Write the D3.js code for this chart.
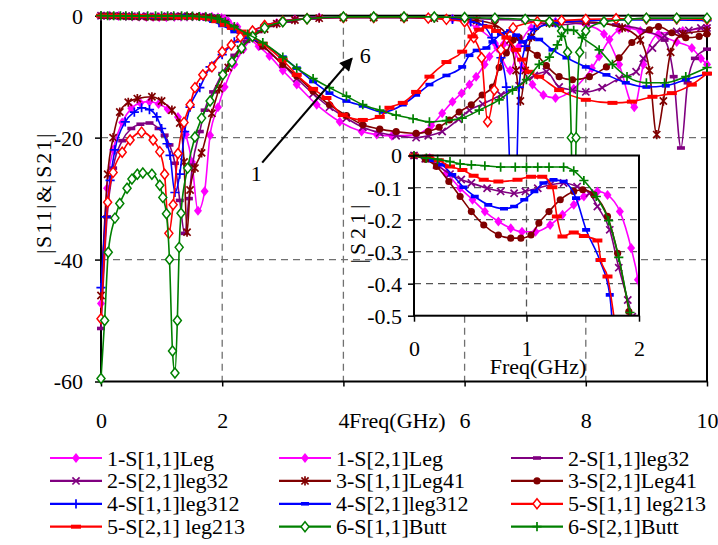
<!DOCTYPE html>
<html>
<head>
<meta charset="utf-8">
<script src="https://cdn.jsdelivr.net/npm/d3@7"></script>
</head>
<body style="margin:0">
<div id="chart"></div>
<script>
// ---- data ----
// names in legend order (row by row)
var seriesNames = ["1-S[1,1]Leg", "1-S[2,1]Leg", "2-S[1,1]leg32", "2-S[2,1]leg32",
  "3-S[1,1]Leg41", "3-S[2,1]Leg41", "4-S[1,1]leg312", "4-S[2,1]leg312",
  "5-S[1,1] leg213", "5-S[2,1] leg213", "6-S[1,1]Butt", "6-S[2,1]Butt"];

var xTicks = [0, 2, 4, 6, 8, 10];
var yTicks = [0, -20, -40, -60];
var insetXTicks = [0, 1, 2];
var insetYTicks = [0, -0.1, -0.2, -0.3, -0.4, -0.5];

// |S11| in dB, [freq GHz, dB]
var s11Leg = [[0,-47.2],[0.1,-28.3],[0.2,-22],[0.35,-17.5],[0.5,-15.2],[0.65,-14.3],[0.8,-14.1],[0.95,-14.5],[1.1,-15.3],[1.27,-16.6],[1.4,-19.5],[1.5,-24],[1.6,-32],[1.71,-28.8],[1.8,-19.6],[1.93,-15],[2.04,-11.7],[2.2,-8],[2.35,-5.5],[2.5,-3.5],[2.7,-2],[2.9,-1.2],[3.2,-0.6],[3.6,-0.3],[4,-0.2],[4.5,-0.2],[5,-0.2],[5.4,-0.3],[5.8,-0.5],[6.2,-2],[6.5,-4.5],[6.75,-9],[6.9,-5],[7.1,-2],[7.5,-1],[8,-1.5],[8.3,-3],[8.55,-8],[8.8,-15],[8.95,-8],[9.2,-3],[9.6,-2.5],[10,-2]];
var s11Leg32 = [[0,-51.3],[0.1,-33],[0.2,-25],[0.35,-20.5],[0.5,-18.5],[0.65,-17.8],[0.8,-17.6],[0.95,-18.5],[1.05,-19.6],[1.13,-21.2],[1.22,-24.2],[1.3,-30.3],[1.38,-35.7],[1.45,-30],[1.51,-24.5],[1.63,-19],[1.71,-15.5],[1.85,-12.5],[2,-9.5],[2.2,-6.5],[2.4,-4.2],[2.6,-2.6],[2.8,-1.6],[3.1,-0.9],[3.5,-0.4],[4,-0.3],[4.5,-0.3],[5,-0.3],[5.5,-0.3],[6,-0.4],[6.5,-0.6],[7,-0.8],[7.5,-1.5],[8,-1.2],[8.5,-1.5],[9,-2.5],[9.3,-4],[9.45,-10],[9.57,-21.7],[9.68,-11],[9.8,-7],[10,-5.5]];
var s11Leg41 = [[0,-45.9],[0.11,-26],[0.2,-20],[0.31,-15.8],[0.45,-14.2],[0.6,-13.6],[0.84,-13.3],[1,-14],[1.17,-15.5],[1.3,-17.6],[1.37,-24],[1.42,-35.5],[1.47,-28.6],[1.55,-25],[1.66,-22.5],[1.83,-16],[1.95,-12],[2.1,-8.5],[2.3,-5.5],[2.5,-3.5],[2.7,-2.2],[2.9,-1.3],[3.2,-0.7],[3.6,-0.4],[4,-0.3],[4.5,-0.3],[5,-0.3],[5.5,-0.4],[6.2,-0.8],[6.5,-1.5],[6.75,-4],[6.85,-9],[6.92,-14],[7,-9],[7.1,-3.5],[7.4,-1.2],[8,-1],[8.6,-2],[8.9,-4],[9.05,-9],[9.17,-19.5],[9.28,-14],[9.4,-6],[9.6,-3],[10,-2.5]];
var s11Leg312 = [[0,-44.6],[0.08,-33],[0.15,-27],[0.23,-22],[0.4,-17.4],[0.55,-15.8],[0.67,-15.1],[0.8,-15.4],[0.92,-16.6],[1,-18.5],[1.09,-21],[1.14,-22.9],[1.22,-29],[1.3,-26],[1.38,-19],[1.47,-15],[1.63,-11.8],[1.8,-8.4],[2,-6.4],[2.2,-4.3],[2.32,-3.5],[2.5,-2.5],[2.7,-1.6],[3,-0.9],[3.4,-0.5],[4,-0.3],[4.5,-0.3],[5,-0.3],[5.4,-0.4],[5.8,-0.6],[6.1,-1],[6.3,-1.5],[6.45,-3.6],[6.6,-6.9],[6.69,-11.7],[6.76,-30],[6.8,-45],[6.85,-30],[6.9,-11.7],[7,-5],[7.15,-2.2],[7.5,-1.2],[8,-0.8],[8.5,-0.7],[9,-0.7],[9.5,-0.7],[10,-0.8]];
var s11Leg213 = [[0,-49.7],[0.11,-30.6],[0.2,-25.7],[0.35,-22.4],[0.48,-20.4],[0.67,-19.1],[0.86,-20.4],[0.97,-22.3],[1.05,-26],[1.12,-35.7],[1.19,-31],[1.27,-22.6],[1.37,-17.5],[1.47,-14.6],[1.55,-11.8],[1.68,-9.7],[1.83,-8.4],[2,-5.9],[2.15,-4.8],[2.3,-3.5],[2.5,-2.5],[2.7,-1.6],[3,-0.9],[3.4,-0.5],[4,-0.3],[4.5,-0.3],[5,-0.3],[5.4,-0.4],[5.7,-0.6],[6,-1],[6.15,-3.6],[6.28,-6.9],[6.38,-17.4],[6.49,-12.2],[6.6,-5.6],[6.8,-2],[7.2,-1],[7.6,-0.8],[8,-0.6],[8.5,-0.5],[9,-0.5],[9.5,-0.5],[10,-0.6]];
var s11Butt = [[0,-59.5],[0.06,-50],[0.12,-38.8],[0.23,-33.2],[0.31,-30.8],[0.43,-28.3],[0.51,-26.8],[0.6,-26],[0.69,-25.8],[0.84,-26],[0.97,-27.8],[1.02,-29.8],[1.08,-32.5],[1.13,-40],[1.18,-55],[1.22,-58.6],[1.26,-50],[1.29,-38],[1.32,-32.4],[1.43,-25],[1.55,-19.9],[1.66,-16.8],[1.8,-14],[2.01,-9.7],[2.16,-7.6],[2.32,-5.3],[2.5,-3.4],[2.7,-2],[3,-1],[3.4,-0.5],[4,-0.2],[4.5,-0.2],[5,-0.2],[5.5,-0.2],[6,-0.3],[6.5,-0.4],[7,-0.6],[7.4,-1],[7.6,-2.5],[7.7,-6],[7.76,-20],[7.8,-45],[7.84,-20],[7.9,-6],[8,-2.5],[8.3,-1],[8.7,-0.6],[9,-0.4],[9.5,-0.4],[10,-0.4]];

// |S21| below 2 GHz (the inset), [freq GHz, dB]
var s21LowLeg = [[0,0],[0.14,-0.008],[0.29,-0.055],[0.41,-0.102],[0.52,-0.138],[0.63,-0.175],[0.75,-0.206],[0.86,-0.227],[0.96,-0.238],[1.08,-0.238],[1.21,-0.217],[1.32,-0.185],[1.42,-0.154],[1.51,-0.128],[1.63,-0.112],[1.72,-0.123],[1.83,-0.175],[1.93,-0.289],[1.99,-0.388],[2.04,-0.55]];
var s21LowLeg32 = [[0,0],[0.1,-0.01],[0.2,-0.03],[0.32,-0.058],[0.42,-0.075],[0.51,-0.086],[0.65,-0.102],[0.77,-0.112],[0.89,-0.118],[0.99,-0.112],[1.1,-0.102],[1.21,-0.092],[1.33,-0.086],[1.45,-0.097],[1.56,-0.118],[1.63,-0.159],[1.74,-0.232],[1.82,-0.35],[1.9,-0.451],[1.94,-0.503]];
var s21LowLeg41 = [[0,0],[0.1,-0.012],[0.2,-0.034],[0.31,-0.081],[0.41,-0.128],[0.51,-0.175],[0.62,-0.217],[0.75,-0.248],[0.86,-0.258],[0.95,-0.258],[1.04,-0.248],[1.11,-0.211],[1.2,-0.175],[1.3,-0.138],[1.42,-0.112],[1.5,-0.107],[1.6,-0.123],[1.72,-0.19],[1.81,-0.305],[1.91,-0.487],[1.93,-0.53]];
var s21LowLeg312 = [[0,0],[0.1,-0.005],[0.17,-0.015],[0.25,-0.029],[0.34,-0.06],[0.44,-0.099],[0.54,-0.128],[0.66,-0.154],[0.8,-0.166],[0.89,-0.159],[0.98,-0.138],[1.07,-0.112],[1.15,-0.086],[1.24,-0.076],[1.33,-0.081],[1.44,-0.133],[1.53,-0.232],[1.65,-0.326],[1.74,-0.435],[1.76,-0.51]];
var s21LowLeg213 = [[0,0],[0.13,-0.003],[0.22,-0.015],[0.32,-0.034],[0.43,-0.045],[0.53,-0.063],[0.62,-0.076],[0.75,-0.081],[0.92,-0.076],[1.04,-0.066],[1.14,-0.066],[1.23,-0.099],[1.27,-0.19],[1.32,-0.253],[1.42,-0.24],[1.51,-0.251],[1.63,-0.265],[1.66,-0.326],[1.72,-0.378],[1.78,-0.51]];
var s21LowButt = [[0,0],[0.11,-0.008],[0.21,-0.012],[0.32,-0.019],[0.41,-0.026],[0.51,-0.029],[0.63,-0.032],[0.77,-0.036],[0.9,-0.036],[1,-0.036],[1.1,-0.036],[1.2,-0.036],[1.33,-0.036],[1.42,-0.048],[1.51,-0.078],[1.62,-0.128],[1.73,-0.203],[1.82,-0.318],[1.92,-0.49],[1.95,-0.53]];

// |S21| above 2 GHz, [freq GHz, dB]
var s21HighLeg = [[2.1,-0.9],[2.25,-1.8],[2.42,-3.5],[2.6,-5],[2.78,-6.6],[3,-9],[3.23,-11.3],[3.56,-14.6],[3.94,-17.4],[4.3,-19],[4.55,-19.5],[4.8,-19.7],[5.2,-19.5],[5.45,-18],[5.63,-16],[5.8,-14.1],[5.95,-12.7],[6.08,-11.3],[6.19,-10],[6.33,-8],[6.41,-6.7],[6.54,-5.3],[6.65,-4.6],[6.8,-5.5],[6.95,-8.5],[7.12,-11.3],[7.3,-13],[7.5,-13.5],[7.8,-12],[8.1,-8.6],[8.22,-6.7],[8.39,-3.9],[8.55,-2.3],[8.7,-2],[8.9,-2.5],[9.2,-3.2],[9.5,-4.3],[9.75,-5.3],[9.9,-7],[10,-8]];
var s21HighLeg32 = [[2.05,-1.2],[2.2,-2],[2.42,-3.3],[2.67,-5],[3,-8],[3.23,-10.3],[3.5,-12.8],[3.77,-15],[4.05,-16.8],[4.32,-18.3],[4.6,-19.2],[4.87,-19.7],[5.2,-20],[5.4,-19.7],[5.63,-19],[5.9,-17],[6.08,-15.5],[6.3,-14.5],[6.6,-13],[6.9,-11.5],[7.15,-9.8],[7.35,-9.2],[7.56,-11.7],[7.78,-12.2],[8,-12.5],[8.27,-11.8],[8.55,-10.3],[8.83,-9.2],[8.95,-7],[9.1,-5.3],[9.3,-3.3],[9.5,-2.6],[9.7,-2.4],[9.9,-2],[10,-2]];
var s21HighLeg41 = [[2.05,-1.2],[2.2,-2],[2.42,-3.3],[2.67,-5],[3,-8],[3.23,-9.9],[3.5,-12.4],[3.77,-14.6],[4.05,-16.4],[4.32,-17.9],[4.6,-18.6],[4.87,-19],[5.2,-19.3],[5.4,-19],[5.58,-18.3],[5.75,-17.1],[5.91,-15.8],[6.11,-14.6],[6.29,-13],[6.46,-11.7],[6.57,-8.5],[6.69,-6.1],[6.8,-4],[6.9,-3.6],[7.03,-5.3],[7.2,-6.5],[7.35,-8.2],[7.56,-10],[7.78,-10.5],[8.06,-10],[8.34,-8.4],[8.55,-6.9],[8.76,-4.4],[9.05,-2.3],[9.2,-1.8],[9.42,-2.8],[9.65,-3.6],[9.87,-3.4],[10,-3]];
var s21HighLeg312 = [[1.85,-0.9],[2,-1.6],[2.2,-2.6],[2.42,-3.5],[2.67,-4.6],[3,-6.8],[3.23,-8.6],[3.5,-10.8],[3.77,-12.7],[4.05,-14],[4.32,-14.8],[4.65,-15.8],[4.98,-14.6],[5.2,-13],[5.42,-11.3],[5.7,-9.8],[5.96,-8.4],[6.08,-6.5],[6.2,-5.7],[6.36,-5.3],[6.46,-4.3],[6.6,-3],[6.75,-2.5],[6.85,-3.2],[6.95,-4.3],[7.1,-3.6],[7.23,-3.9],[7.45,-5.6],[7.68,-6.9],[8,-8.4],[8.34,-9.7],[8.66,-11],[9,-11.7],[9.32,-11.5],[9.65,-10.5],[10,-9.5]];
var s21HighLeg213 = [[1.9,-0.9],[2.04,-1.5],[2.16,-2],[2.32,-2.6],[2.42,-3.1],[2.67,-4.6],[3,-7.3],[3.23,-9.7],[3.5,-12],[3.72,-13.5],[3.99,-16.3],[4.32,-17.1],[4.6,-16.6],[4.76,-15.1],[4.98,-14.3],[5.2,-12.5],[5.42,-10],[5.7,-7.6],[5.96,-5.9],[6.13,-3.4],[6.24,-2.3],[6.38,-1.8],[6.52,-2.5],[6.69,-3.6],[6.85,-5.6],[6.95,-7.2],[7.07,-9.2],[7.23,-10],[7.56,-12.2],[8,-13.8],[8.44,-14.3],[8.76,-14.1],[9.1,-13.3],[9.42,-12.7],[9.75,-11.3],[10,-9.5]];
var s21HighButt = [[2.05,-1],[2.2,-1.8],[2.42,-3],[2.67,-4.4],[3,-6.8],[3.23,-8.6],[3.5,-10.3],[3.77,-11.8],[4.05,-13.2],[4.32,-14.6],[4.6,-15.5],[4.87,-16.3],[5.15,-16.9],[5.42,-17.4],[5.7,-17.2],[5.96,-16.8],[6.24,-15.5],[6.57,-13.8],[6.79,-12.2],[7.02,-10.5],[7.23,-8],[7.4,-6.8],[7.53,-4.8],[7.6,-3.4],[7.7,-2.3],[7.8,-2.4],[7.94,-3.6],[8.22,-5.6],[8.44,-8],[8.68,-10],[9,-11],[9.3,-11],[9.65,-10],[10,-8.5]];

// arrow annotation "1" -> "6", [freq, dB]
var arrowFrom = [2.66, -24.1];
var arrowTo = [4.14, -7.0];
var arrowLabels = [["1", 2.56, -27.1], ["6", 4.36, -7.8]];

// ---- styles ----
var colors = ["#ff00ff", "#ff00ff", "#800080", "#800080", "#800000", "#800000",
  "#0000ff", "#0000ff", "#ff0000", "#ff0000", "#008000", "#008000"];
var markers = ["diamond", "diamond", "bar", "x", "star", "circle",
  "plus", "bar", "diamondOpen", "barWide", "diamondOpen", "plus"];

var mainData = [s11Leg, s21LowLeg.concat(s21HighLeg), s11Leg32, s21LowLeg32.concat(s21HighLeg32),
  s11Leg41, s21LowLeg41.concat(s21HighLeg41), s11Leg312, s21LowLeg312.concat(s21HighLeg312),
  s11Leg213, s21LowLeg213.concat(s21HighLeg213), s11Butt, s21LowButt.concat(s21HighButt)];
// the inset only shows the S21 curves (index into legend order)
var insetData = [[1, s21LowLeg], [3, s21LowLeg32], [5, s21LowLeg41],
  [7, s21LowLeg312], [9, s21LowLeg213], [11, s21LowButt]];

var FONT = 22;
var FAMILY = "Liberation Serif";

function markerPath(type) {
  switch (type) {
    case "diamond":
    case "diamondOpen": return "M0,-5L4,0L0,5L-4,0Z";
    case "bar": return "M-4,-1.8H4V1.8H-4Z";
    case "barWide": return "M-5,-2H5V2H-5Z";
    case "x": return "M-3.6,-3.6L3.6,3.6M-3.6,3.6L3.6,-3.6";
    case "star": return "M-3.6,-3.6L3.6,3.6M-3.6,3.6L3.6,-3.6M0,-4.6V4.6";
    case "plus": return "M-4.6,0H4.6M0,-4.6V4.6";
    case "circle": return d3.symbol(d3.symbolCircle, 40)();
  }
}
function styleMarker(sel, type, color) {
  if (type == "x" || type == "star" || type == "plus") {
    sel.attr("fill", "none").attr("stroke", color).attr("stroke-width", 1.7);
  } else if (type == "diamondOpen") {
    sel.attr("fill", "#fff").attr("stroke", color).attr("stroke-width", 1.5);
  } else {
    sel.attr("fill", color).attr("stroke", "none");
  }
}

// draw one curve with its markers
function drawSeries(g, data, xs, ys, color, type) {
  var line = d3.line()
    .x(function(d) { return xs(d[0]); })
    .y(function(d) { return ys(d[1]); })
    .curve(d3.curveMonotoneX);
  g.append("path")
    .datum(data)
    .attr("d", line)
    .attr("fill", "none")
    .attr("stroke", color)
    .attr("stroke-width", 1.6);
  g.selectAll(null)
    .data(data)
    .enter()
    .append("path")
    .attr("d", markerPath(type))
    .attr("transform", function(d) { return "translate(" + xs(d[0]) + "," + ys(d[1]) + ")"; })
    .call(styleMarker, type, color);
}

// plain text helper, always in the serif face
function addText(parent, str, size) {
  return parent.append("text")
    .attr("font-family", FAMILY)
    .style("font-family", FAMILY)
    .attr("font-size", size)
    .attr("fill", "#000")
    .text(str);
}
function styleAxis(a) {
  a.attr("font-family", FAMILY).attr("font-size", FONT);
  a.select(".domain").remove();
  a.selectAll(".tick line").attr("stroke", "#000").attr("stroke-width", 1.5);
  a.selectAll(".tick text")
    .attr("fill", "#000")
    .attr("font-family", FAMILY)
    .style("font-family", FAMILY)
    .attr("font-size", FONT);
}

var svg = d3.select("#chart").append("svg")
  .attr("width", 718)
  .attr("height", 545);

// ---- main plot ----
var x = d3.scaleLinear().domain([0, 10]).range([101, 707]);
var y = d3.scaleLinear().domain([-60, 0]).range([381.5, 15.7]);

var grid = svg.append("g").attr("stroke", "#707070").attr("stroke-width", 1.3).attr("stroke-dasharray", "7,5");
grid.selectAll("line.vx")
  .data([2, 4, 6, 8])
  .enter().append("line")
  .attr("x1", function(d) { return x(d); }).attr("x2", function(d) { return x(d); })
  .attr("y1", y(0)).attr("y2", y(-60));
grid.selectAll("line.hy")
  .data([-20, -40])
  .enter().append("line")
  .attr("x1", x(0)).attr("x2", x(10))
  .attr("y1", function(d) { return y(d); }).attr("y2", function(d) { return y(d); });

svg.append("rect")
  .attr("x", x(0)).attr("y", y(0))
  .attr("width", x(10) - x(0)).attr("height", y(-60) - y(0))
  .attr("fill", "none").attr("stroke", "#000").attr("stroke-width", 2);

var xAxis = svg.append("g")
  .attr("transform", "translate(0," + y(-60) + ")")
  .call(d3.axisBottom(x).tickValues(xTicks).tickSize(5).tickPadding(26).tickFormat(String));
var yAxis = svg.append("g")
  .attr("transform", "translate(" + x(0) + ",0)")
  .call(d3.axisLeft(y).tickValues(yTicks).tickSize(6).tickPadding(12).tickFormat(String));
styleAxis(xAxis);
styleAxis(yAxis);
yAxis.selectAll(".tick text").attr("dy", "0.34em");

addText(svg, "|S11|&|S21|", FONT)
  .attr("transform", "translate(43,193) rotate(-90)")
  .attr("text-anchor", "middle")
  .attr("dy", "0.35em")
  .attr("letter-spacing", 1.8);
addText(svg, "Freq(GHz)", FONT)
  .attr("x", 349).attr("y", 428);

var curves = svg.append("g");
mainData.forEach(function(d, i) {
  drawSeries(curves.append("g"), d, x, y, colors[i], markers[i]);
});

// ---- inset ----
var ix = d3.scaleLinear().domain([0, 2]).range([414, 639]);
var iy = d3.scaleLinear().domain([-0.5, 0]).range([315.7, 155.5]);

svg.append("defs").append("clipPath").attr("id", "insetClip")
  .append("rect").attr("x", 405).attr("y", 148).attr("width", 639 - 405).attr("height", 315.7 - 148);

svg.append("rect")
  .attr("x", ix(0)).attr("y", iy(0))
  .attr("width", ix(2) - ix(0)).attr("height", iy(-0.5) - iy(0))
  .attr("fill", "#fff");

var igrid = svg.append("g").attr("stroke", "#555").attr("stroke-width", 1.3).attr("stroke-dasharray", "7,5");
igrid.selectAll("line.h")
  .data([-0.1, -0.2, -0.3, -0.4])
  .enter().append("line")
  .attr("x1", ix(0)).attr("x2", ix(2))
  .attr("y1", function(d) { return iy(d); }).attr("y2", function(d) { return iy(d); });
igrid.append("line")
  .attr("x1", ix(1)).attr("x2", ix(1))
  .attr("y1", iy(0)).attr("y2", iy(-0.5));

var insetCurves = svg.append("g").attr("clip-path", "url(#insetClip)");
insetData.forEach(function(p) {
  drawSeries(insetCurves.append("g"), p[1], ix, iy, colors[p[0]], markers[p[0]]);
});

svg.append("rect")
  .attr("x", ix(0)).attr("y", iy(0))
  .attr("width", ix(2) - ix(0)).attr("height", iy(-0.5) - iy(0))
  .attr("fill", "none").attr("stroke", "#000").attr("stroke-width", 2);

var ixAxis = svg.append("g")
  .attr("transform", "translate(0," + iy(-0.5) + ")")
  .call(d3.axisBottom(ix).tickValues(insetXTicks).tickSize(6).tickPadding(19).tickFormat(String));
var iyAxis = svg.append("g")
  .attr("transform", "translate(" + ix(0) + ",0)")
  .call(d3.axisLeft(iy).tickValues(insetYTicks).tickSize(6).tickPadding(6).tickFormat(String));
styleAxis(ixAxis);
styleAxis(iyAxis);
iyAxis.selectAll(".tick text").attr("dy", "0.34em");

addText(svg, "|S21|", FONT)
  .attr("transform", "translate(357,232) rotate(-90)")
  .attr("text-anchor", "middle")
  .attr("dy", "0.35em")
  .attr("letter-spacing", 4);
addText(svg, "Freq(GHz)", FONT)
  .attr("x", 538).attr("y", 374)
  .attr("text-anchor", "middle");

// ---- arrow annotation ----
svg.append("defs").append("marker")
  .attr("id", "arrowHead")
  .attr("viewBox", "0 0 10 10")
  .attr("refX", 9).attr("refY", 5)
  .attr("markerWidth", 7).attr("markerHeight", 6)
  .attr("markerUnits", "strokeWidth")
  .attr("orient", "auto")
  .append("path").attr("d", "M0,0L10,5L0,10Z").attr("fill", "#000");
svg.append("line")
  .attr("x1", x(arrowFrom[0])).attr("y1", y(arrowFrom[1]))
  .attr("x2", x(arrowTo[0])).attr("y2", y(arrowTo[1]))
  .attr("stroke", "#000").attr("stroke-width", 2.2)
  .attr("marker-end", "url(#arrowHead)");
arrowLabels.forEach(function(d) {
  addText(svg, d[0], 22)
    .attr("x", x(d[1]))
    .attr("y", y(d[2]))
    .attr("text-anchor", "middle");
});

// ---- legend, 3 columns row by row ----
var legendX = [50, 279, 511];
var legendLineLen = 52;
var legendTop = 458, legendStep = 22.9;
var legend = svg.append("g");
seriesNames.forEach(function(name, i) {
  var col = i % 3, row = Math.floor(i / 3);
  var lx = legendX[col], ly = legendTop + row * legendStep;
  var g = legend.append("g");
  g.append("line")
    .attr("x1", lx).attr("x2", lx + legendLineLen)
    .attr("y1", ly).attr("y2", ly)
    .attr("stroke", colors[i]).attr("stroke-width", 2.2);
  g.append("path")
    .attr("d", markerPath(markers[i]))
    .attr("transform", "translate(" + (lx + legendLineLen / 2) + "," + ly + ")")
    .call(styleMarker, markers[i], colors[i]);
  addText(g, name, FONT)
    .attr("x", lx + legendLineLen + 5)
    .attr("y", ly + 7.5);
});
</script>
</body>
</html>
